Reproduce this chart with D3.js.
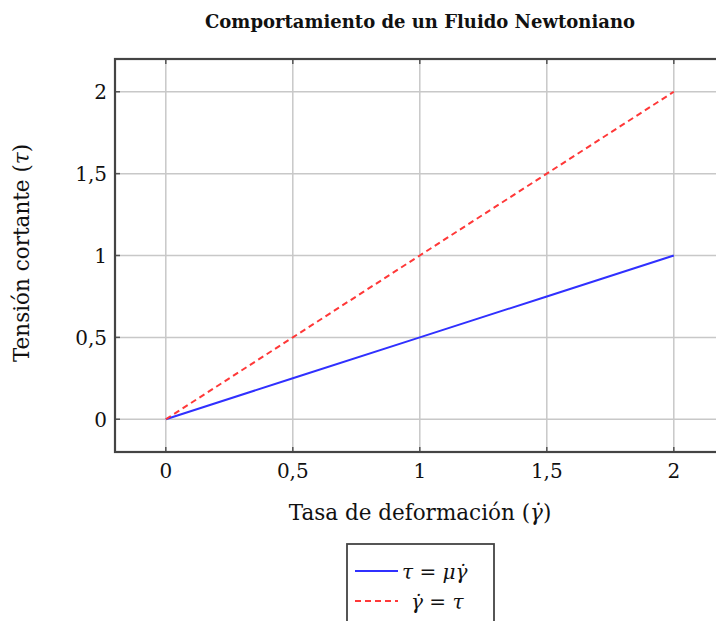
<!DOCTYPE html>
<html><head><meta charset="utf-8">
<script src="https://cdn.jsdelivr.net/npm/d3@7"></script>
<style>body{margin:0;background:#fff}svg{display:block}text{font-family:"DejaVu Serif",serif}</style>
</head><body>
<svg id="c" width="716" height="621"></svg>
<script>
const rates = [0, 0.5, 1, 1.5, 2];
const tauNewton = [0, 0.25, 0.5, 0.75, 1];
const tauIdentity = [0, 0.5, 1, 1.5, 2];
const xTicks = [0, 0.5, 1, 1.5, 2];
const yTicks = [0, 0.5, 1, 1.5, 2];
const tickLabels = ["0", "0,5", "1", "1,5", "2"];

const svg = d3.select("#c");
const L = 115, T = 59, B = 452;
const x = d3.scaleLinear().domain([-0.2, 2.2]).range([L, L + (674 - 166) / 2 * 2.4]);
const y = d3.scaleLinear().domain([-0.2, 2.2]).range([B, T]);
const R = x(2.2);

svg.append("defs").append("clipPath").attr("id","pc").append("rect")
  .attr("x", L).attr("y", T).attr("width", R - L).attr("height", B - T);

const g = svg.append("g");
g.selectAll(".gx").data(xTicks).join("line").attr("x1", d=>x(d)).attr("x2", d=>x(d))
  .attr("y1", T).attr("y2", B).attr("stroke", "#c8c8c8").attr("stroke-width", 1.5);
g.selectAll(".gy").data(yTicks).join("line").attr("y1", d=>y(d)).attr("y2", d=>y(d))
  .attr("x1", L).attr("x2", R).attr("stroke", "#c8c8c8").attr("stroke-width", 1.5);
g.selectAll(".tb").data(xTicks).join("line").attr("x1", d=>x(d)).attr("x2", d=>x(d))
  .attr("y1", B).attr("y2", B - 5).attr("stroke", "#555").attr("stroke-width", 1.5);
g.selectAll(".tt").data(xTicks).join("line").attr("x1", d=>x(d)).attr("x2", d=>x(d))
  .attr("y1", T).attr("y2", T + 5).attr("stroke", "#555").attr("stroke-width", 1.5);
g.selectAll(".tl").data(yTicks).join("line").attr("y1", d=>y(d)).attr("y2", d=>y(d))
  .attr("x1", L).attr("x2", L + 5).attr("stroke", "#555").attr("stroke-width", 1.5);
g.selectAll(".tr").data(yTicks).join("line").attr("y1", d=>y(d)).attr("y2", d=>y(d))
  .attr("x1", R).attr("x2", R - 5).attr("stroke", "#555").attr("stroke-width", 1.5);

const line = d3.line().x(d=>x(d[0])).y(d=>y(d[1]));
g.append("path").datum(rates.map((r,i)=>[r, tauNewton[i]])).attr("d", line)
  .attr("fill","none").attr("stroke","#3030ff").attr("stroke-width",2).attr("clip-path","url(#pc)");
g.append("path").datum(rates.map((r,i)=>[r, tauIdentity[i]])).attr("d", line)
  .attr("fill","none").attr("stroke","#ff3838").attr("stroke-width",2)
  .attr("stroke-dasharray","6,4").attr("clip-path","url(#pc)");

g.append("rect").attr("x", L).attr("y", T).attr("width", R - L).attr("height", B - T)
  .attr("fill","none").attr("stroke","#444").attr("stroke-width",2.2);

g.selectAll(".xl").data(xTicks).join("text").attr("x", d=>x(d)).attr("y", 478)
  .attr("text-anchor","middle").attr("font-size",20).attr("fill","#111").text((d,i)=>tickLabels[i]);
g.selectAll(".yl").data(yTicks).join("text").attr("x", 107).attr("y", d=>y(d)+7.5)
  .attr("text-anchor","end").attr("font-size",20).attr("fill","#111").text((d,i)=>tickLabels[i]);

svg.append("text").attr("x", 420).attr("y", 28).attr("text-anchor","middle")
  .attr("font-size",18).attr("font-weight","bold").attr("fill","#111")
  .text("Comportamiento de un Fluido Newtoniano");

function gammaDot(sel){
  sel.append("tspan").attr("font-style","italic").text("γ̇");
}
const xl = svg.append("text").attr("x", 420).attr("y", 520).attr("text-anchor","middle")
  .attr("font-size",21.5).attr("fill","#111");
xl.append("tspan").text("Tasa de deformación (");
gammaDot(xl);
xl.append("tspan").text(")");

const yl = svg.append("text").attr("transform","translate(29,253) rotate(-90)")
  .attr("text-anchor","middle").attr("font-size",21.5).attr("fill","#111");
yl.append("tspan").text("Tensión cortante (");
yl.append("tspan").attr("font-style","italic").text("τ");
yl.append("tspan").text(")");

const lg = svg.append("g");
lg.append("rect").attr("x",347).attr("y",544).attr("width",147).attr("height",90)
  .attr("fill","#fff").attr("stroke","#444").attr("stroke-width",1.8);
lg.append("line").attr("x1",355).attr("x2",398).attr("y1",571).attr("y2",571)
  .attr("stroke","#3030ff").attr("stroke-width",2);
lg.append("line").attr("x1",355).attr("x2",398).attr("y1",601).attr("y2",601)
  .attr("stroke","#ff3838").attr("stroke-width",2).attr("stroke-dasharray","6,4");
const t1 = lg.append("text").attr("x",402).attr("y",579).attr("font-size",20).attr("fill","#111");
t1.append("tspan").attr("font-style","italic").text("τ");
t1.append("tspan").text(" = ");
t1.append("tspan").attr("font-style","italic").text("μ");
gammaDot(t1);
const t2 = lg.append("text").attr("x",411).attr("y",609).attr("font-size",20).attr("fill","#111");
gammaDot(t2);
t2.append("tspan").text(" = ");
t2.append("tspan").attr("font-style","italic").text("τ");
</script>
</body></html>
